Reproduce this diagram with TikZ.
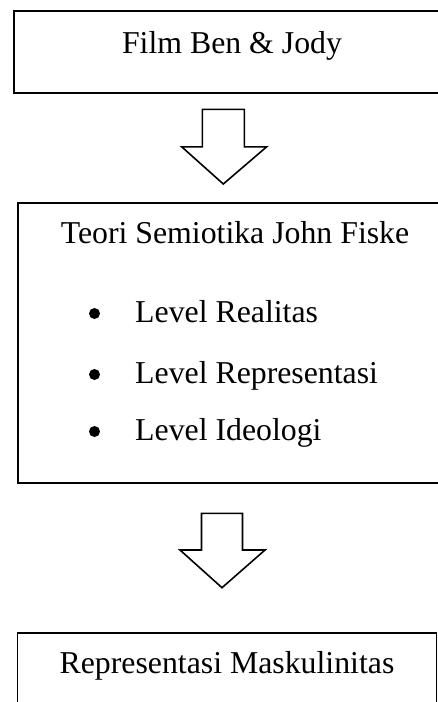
\documentclass[tikz,border=0pt]{standalone}
\usepackage{fontspec}
\setmainfont{Liberation Serif}
\begin{document}
\begin{tikzpicture}[x=1pt,y=-1pt,
  box/.style={draw=black,line width=1.6pt},
  lbl/.style={anchor=base,inner sep=0pt,font=\fontsize{31.8}{36}\selectfont},
  item/.style={anchor=base west,inner sep=0pt,font=\fontsize{31.8}{36}\selectfont},
  dot/.style={circle,fill=black,inner sep=0pt,minimum size=11pt},
  blockarrow/.style={draw=black,fill=white,line width=1.6pt,line join=miter}]
\useasboundingbox (0,0) rectangle (438,702);
\begin{scope}
\clip (0,0) rectangle (438,702);
% boxes
\draw[box] (14,11) rectangle (460,93);
\draw[box] (18,203) rectangle (460,483);
\draw[box] (17.5,633) rectangle (436.5,730);
% texts
\node[lbl] (film) at (232,53) {Film Ben \& Jody};
\node[lbl] (teori) at (235,243) {Teori Semiotika John Fiske};
\node[dot] (d1) at (94.5,313.5) {};
\node[dot] (d2) at (94.5,374.5) {};
\node[dot] (d3) at (94.5,431.5) {};
\node[item] (l1) at (135,322.5) {Level Realitas};
\node[item] (l2) at (135,383.5) {Level Representasi};
\node[item] (l3) at (135,440.5) {Level Ideologi};
\node[lbl] (rep) at (227,673) {Representasi Maskulinitas};
% block arrows
\coordinate (a1) at (223.3,109.3);
\draw[blockarrow] ([xshift=-21pt]a1) -- ([xshift=21pt]a1) -- ([xshift=21pt,yshift=-37.5pt]a1)
  -- ([xshift=43.4pt,yshift=-37.5pt]a1) -- ([yshift=-74.7pt]a1) -- ([xshift=-41.6pt,yshift=-37.5pt]a1)
  -- ([xshift=-21pt,yshift=-37.5pt]a1) -- cycle;
\coordinate (a2) at (222,513.3);
\draw[blockarrow] ([xshift=-20.5pt]a2) -- ([xshift=20.5pt]a2) -- ([xshift=20.5pt,yshift=-36.7pt]a2)
  -- ([xshift=43pt,yshift=-36.7pt]a2) -- ([yshift=-74.4pt]a2) -- ([xshift=-42pt,yshift=-36.7pt]a2)
  -- ([xshift=-20.5pt,yshift=-36.7pt]a2) -- cycle;
\end{scope}
\end{tikzpicture}
\end{document}
